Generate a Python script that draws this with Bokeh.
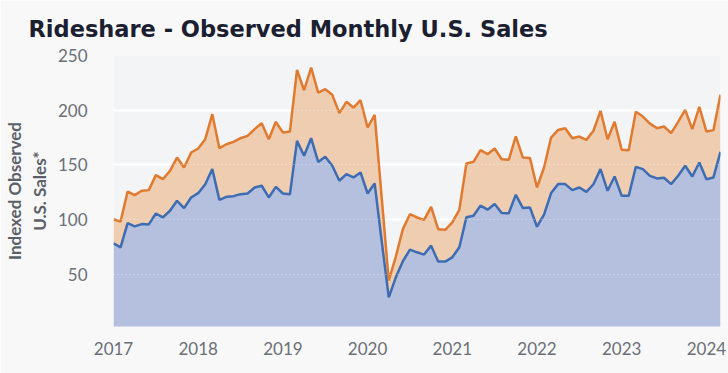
from bokeh.plotting import figure
from bokeh.models import Range1d, FixedTicker, Grid
from bokeh.embed import file_html
from bokeh.resources import INLINE

# ---- data (monthly, Jan 2017 - Mar 2024) ----
start_year = 2017
total_sales = [
    100.2, 98.1, 125.5, 122.2, 126.2, 126.8, 140.5, 136.8, 144.4, 156.6, 147.5, 161.2,
    164.9, 173.4, 196.3, 165.2, 168.8, 171.0, 174.3, 176.5, 182.6, 188.0, 173.4, 189.3,
    179.6, 180.5, 236.8, 218.2, 239.0, 216.1, 219.2, 214.0, 197.3, 207.6, 202.4, 209.1,
    184.1, 195.7, 120.0, 43.9, 66.0, 91.1, 104.8, 101.8, 99.6, 111.5, 91.1, 90.5,
    97.2, 108.8, 151.2, 152.7, 163.4, 159.7, 164.9, 155.1, 154.5, 175.9, 156.6, 156.3,
    129.2, 147.5, 174.9, 181.9, 183.5, 174.3, 175.8, 172.8, 181.1, 199.4, 173.4, 189.3,
    163.7, 163.4, 198.5, 194.1, 187.7, 183.5, 185.0, 178.9, 189.3, 200.3, 182.6, 203.0,
    180.5, 181.7, 214.1,
]
base_sales = [
    78.0, 74.4, 96.6, 93.6, 95.7, 95.4, 105.4, 101.8, 107.9, 117.0, 110.3, 120.1,
    124.0, 132.2, 146.0, 117.9, 120.7, 121.3, 123.1, 123.7, 129.2, 130.8, 120.1, 129.8,
    123.7, 123.1, 171.9, 158.2, 174.3, 152.6, 157.3, 149.1, 135.4, 141.5, 138.4, 143.0,
    123.7, 132.9, 80.0, 28.6, 47.0, 61.7, 72.4, 69.9, 67.8, 76.0, 61.4, 61.4,
    65.3, 74.5, 101.9, 103.4, 112.6, 108.9, 114.1, 105.9, 105.6, 122.6, 110.4, 111.0,
    93.3, 104.3, 124.1, 132.3, 132.3, 126.8, 129.2, 125.2, 132.2, 146.0, 126.2, 139.3,
    121.6, 121.6, 148.1, 146.0, 139.9, 137.5, 138.1, 132.3, 139.9, 149.1, 139.3, 152.1,
    136.8, 138.4, 161.9,
]
year_labels = ["2017", "2018", "2019", "2020", "2021", "2022", "2023", "2024"]
y_ticks = [50, 100, 150, 200, 250]

months = list(range(len(total_sales)))
year_ticks = [(int(y) - start_year) * 12 for y in year_labels]

p = figure(width=728, height=373, output_backend="svg", toolbar_location=None,
           x_range=Range1d(0, len(months) - 1), y_range=Range1d(2, 250),
           min_border_left=113, min_border_right=8, min_border_top=55, min_border_bottom=47,
           background_fill_color="#f3f4f6", border_fill_color="#f8f8f8",
           outline_line_color=None)

p.title.text = "Rideshare - Observed Monthly U.S. Sales"
p.title.text_font = "DejaVu Sans"
p.title.text_font_style = "bold"
p.title.text_font_size = "22.5px"
p.title.text_color = "#1b2031"
p.title.align = "left"
p.title.offset = -85
p.title.standoff = 27

p.varea(x=months, y1=0, y2=base_sales, fill_color="#b4c0de")
p.varea(x=months, y1=base_sales, y2=total_sales, fill_color="#efcdb0")
p.line(months, total_sales, line_color="#e07a2f", line_width=2.5)
p.line(months, base_sales, line_color="#3d6cb2", line_width=2.5)

p.xgrid.grid_line_color = None
p.ygrid.ticker = FixedTicker(ticks=y_ticks)
p.ygrid.grid_line_color = "white"
p.ygrid.grid_line_width = 2
g2 = Grid(dimension=1, ticker=FixedTicker(ticks=y_ticks), level="overlay",
          grid_line_color="white", grid_line_alpha=0.55, grid_line_dash="1 3",
          grid_line_width=1)
p.add_layout(g2)

p.xaxis.ticker = FixedTicker(ticks=year_ticks)
p.xaxis.major_label_overrides = {t: l for t, l in zip(year_ticks, year_labels)}
p.yaxis.ticker = FixedTicker(ticks=y_ticks)

for ax in (p.xaxis[0], p.yaxis[0]):
    ax.axis_line_color = None
    ax.major_tick_line_color = None
    ax.minor_tick_line_color = None
    ax.major_label_text_font = "Lato"
    ax.major_label_text_font_size = "17px"
    ax.major_label_text_color = "#6b6f77"

p.xaxis.major_label_standoff = 9
p.yaxis.major_label_standoff = 20

p.yaxis.axis_label = "Indexed Observed\nU.S. Sales*"
p.yaxis.axis_label_text_font = "Lato"
p.yaxis.axis_label_text_font_style = "bold"
p.yaxis.axis_label_text_font_size = "17px"
p.yaxis.axis_label_text_color = "#5b5f68"
p.yaxis.axis_label_standoff = 5

open("out.html", "w").write(file_html(p, INLINE))
